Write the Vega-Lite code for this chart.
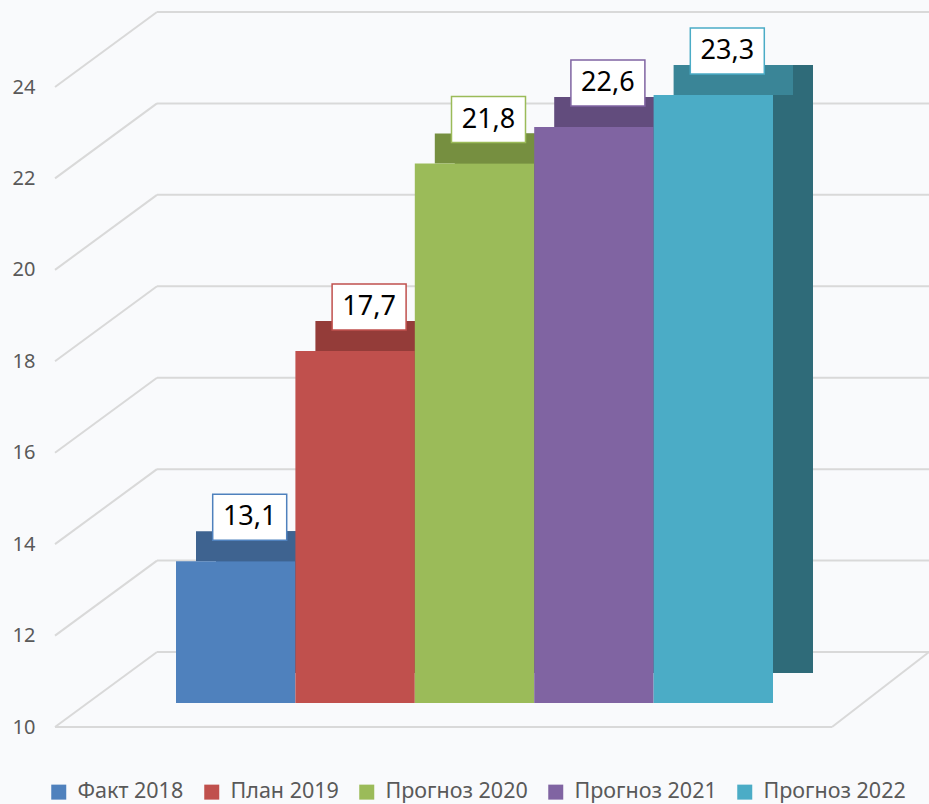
{
  "$schema": "https://vega.github.io/schema/vega-lite/v6.json",
  "width": 874,
  "height": 640,
  "autosize": "none",
  "padding": {"left": 55, "top": 87, "right": 0, "bottom": 77},
  "background": "#f9fafc",
  "config": {"view": {"stroke": null}, "font": "Noto Sans", "axisX": {"disable": true}},
  "datasets": {
    "bars": [
      {"cat": "Факт 2018", "value": 13.1, "label": "13,1"},
      {"cat": "План 2019", "value": 17.7, "label": "17,7"},
      {"cat": "Прогноз 2020", "value": 21.8, "label": "21,8"},
      {"cat": "Прогноз 2021", "value": 22.6, "label": "22,6"},
      {"cat": "Прогноз 2022", "value": 23.3, "label": "23,3"}
    ],
    "grid": [{"v": 10}, {"v": 12}, {"v": 14}, {"v": 16}, {"v": 18}, {"v": 20}, {"v": 22}, {"v": 24}]
  },
  "layer": [
    {
      "data": {"name": "grid"},
      "mark": {"type": "rule", "color": "#d9d9d9", "strokeWidth": 2, "xOffset": -121, "x2Offset": -19, "y2Offset": -75},
      "encoding": {
        "x": {"datum": "Факт 2018", "type": "nominal", "bandPosition": 0, "axis": null,
              "scale": {"type": "band", "domain": ["Факт 2018", "План 2019", "Прогноз 2020", "Прогноз 2021", "Прогноз 2022"], "paddingInner": 0, "paddingOuter": 0, "range": [121, 718]}},
        "x2": {"datum": "Факт 2018", "bandPosition": 0},
        "y": {"field": "v", "type": "quantitative", "scale": {"domain": [10, 24], "nice": false, "zero": false},
              "axis": {"values": [10, 12, 14, 16, 18, 20, 22, 24], "title": null, "domain": false, "ticks": false, "grid": false, "labelPadding": 20, "labelFontSize": 20, "labelColor": "#595959"}},
        "y2": {"field": "v"}
      }
    },
    {
      "data": {"name": "grid"},
      "mark": {"type": "rule", "color": "#d9d9d9", "strokeWidth": 2, "xOffset": -19, "x2Offset": 156, "yOffset": -75},
      "encoding": {
        "x": {"datum": "Факт 2018", "type": "nominal", "bandPosition": 0, "axis": null},
        "x2": {"datum": "Прогноз 2022", "bandPosition": 1},
        "y": {"field": "v", "type": "quantitative"}
      }
    },
    {
      "data": {"name": "grid"},
      "transform": [{"filter": "datum.v == 10"}],
      "mark": {"type": "rule", "color": "#d9d9d9", "strokeWidth": 2, "xOffset": -121, "x2Offset": 59},
      "encoding": {
        "x": {"datum": "Факт 2018", "type": "nominal", "bandPosition": 0, "axis": null},
        "x2": {"datum": "Прогноз 2022", "bandPosition": 1},
        "y": {"field": "v", "type": "quantitative"}
      }
    },
    {
      "data": {"name": "grid"},
      "transform": [{"filter": "datum.v == 10"}],
      "mark": {"type": "rule", "color": "#d9d9d9", "strokeWidth": 2, "xOffset": 59, "x2Offset": 156, "y2Offset": -75},
      "encoding": {
        "x": {"datum": "Прогноз 2022", "type": "nominal", "bandPosition": 1, "axis": null},
        "x2": {"datum": "Прогноз 2022", "bandPosition": 1},
        "y": {"field": "v", "type": "quantitative"},
        "y2": {"field": "v"}
      }
    },
    {
      "data": {"name": "bars"},
      "mark": {"type": "bar", "xOffset": 40, "x2Offset": 40, "yOffset": -54, "y2Offset": -54},
      "encoding": {
        "x": {"field": "cat", "type": "nominal", "axis": null},
        "y": {"field": "value", "type": "quantitative"},
        "y2": {"datum": 10},
        "fill": {"field": "cat", "type": "nominal", "legend": null,
                 "scale": {"domain": ["Факт 2018", "План 2019", "Прогноз 2020", "Прогноз 2021", "Прогноз 2022"], "range": ["#2f4b70", "#7a302e", "#5f7434", "#4e3c63", "#2f6b79"]}}
      }
    },
    {
      "data": {"name": "bars"},
      "mark": {"type": "bar", "xOffset": 20, "x2Offset": 20, "yOffset": -54, "y2Offset": -24},
      "encoding": {
        "x": {"field": "cat", "type": "nominal", "axis": null},
        "y": {"field": "value", "type": "quantitative"},
        "y2": {"field": "value"},
        "fill": {"field": "cat", "type": "nominal", "legend": null,
                 "scale": {"domain": ["Факт 2018", "План 2019", "Прогноз 2020", "Прогноз 2021", "Прогноз 2022"], "range": ["#3e6390", "#943c39", "#768f40", "#624c7d", "#3a8597"]}}
      }
    },
    {
      "data": {"name": "bars"},
      "mark": {"type": "bar", "yOffset": -24, "y2Offset": -24},
      "encoding": {
        "x": {"field": "cat", "type": "nominal", "axis": null},
        "y": {"field": "value", "type": "quantitative"},
        "y2": {"datum": 10},
        "color": {"field": "cat", "type": "nominal",
                  "scale": {"domain": ["Факт 2018", "План 2019", "Прогноз 2020", "Прогноз 2021", "Прогноз 2022"], "range": ["#4f81bd", "#c0504d", "#9bbb59", "#8064a2", "#4bacc6"]},
                  "legend": {"orient": "none", "legendX": -7, "legendY": 694, "direction": "horizontal", "columns": 5, "title": null, "symbolType": "square", "symbolSize": 225, "symbolStrokeWidth": 0, "symbolOpacity": 1, "labelFontSize": 21.5, "labelColor": "#595959", "labelOffset": 8, "columnPadding": 17}}
      }
    },
    {
      "data": {"name": "bars"},
      "mark": {"type": "point", "shape": "M-1,-0.6216L1,-0.6216L1,0.6216L-1,0.6216Z", "size": 5476, "filled": true, "fill": "white", "strokeWidth": 1.5, "opacity": 1, "xOffset": 14, "yOffset": -68},
      "encoding": {
        "x": {"field": "cat", "type": "nominal", "axis": null},
        "y": {"field": "value", "type": "quantitative"},
        "stroke": {"field": "cat", "type": "nominal", "legend": null,
                   "scale": {"domain": ["Факт 2018", "План 2019", "Прогноз 2020", "Прогноз 2021", "Прогноз 2022"], "range": ["#4f81bd", "#c0504d", "#9bbb59", "#8064a2", "#4bacc6"]}}
      }
    },
    {
      "data": {"name": "bars"},
      "mark": {"type": "text", "fontSize": 27, "color": "black", "align": "center", "baseline": "middle", "xOffset": 14, "yOffset": -68},
      "encoding": {
        "x": {"field": "cat", "type": "nominal", "axis": null},
        "y": {"field": "value", "type": "quantitative"},
        "text": {"field": "label"}
      }
    }
  ],
  "resolve": {"scale": {"fill": "independent"}}
}
